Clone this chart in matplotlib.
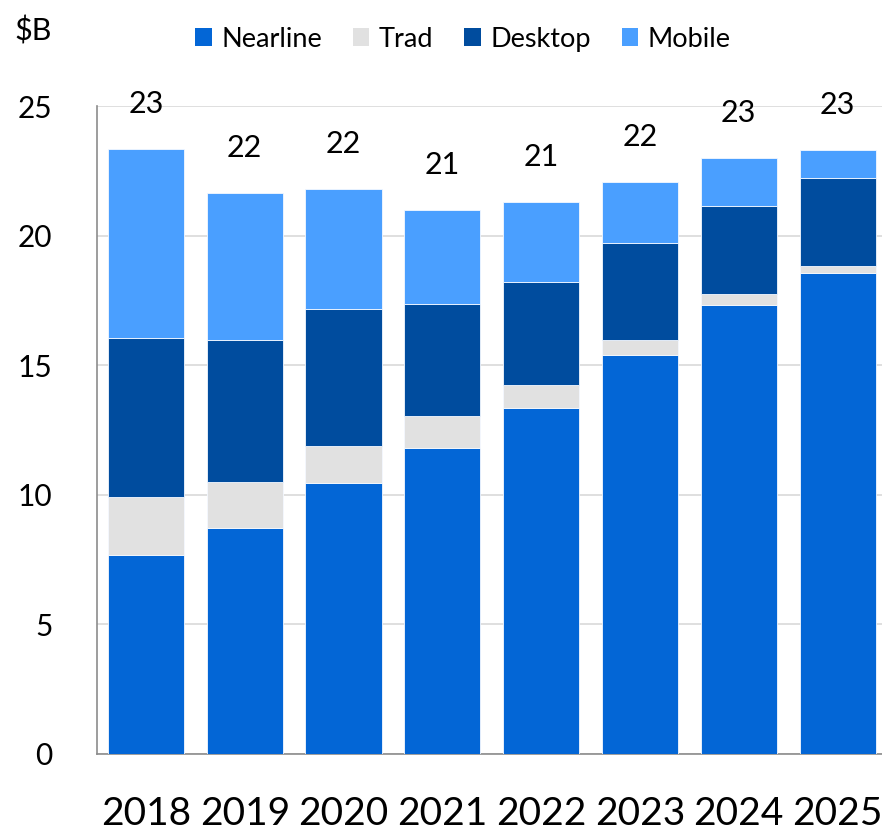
import numpy as np
import matplotlib
matplotlib.use("Agg")
import matplotlib.pyplot as plt
from matplotlib.patches import Patch

plt.rcParams['font.family'] = ['Lato', 'DejaVu Sans']

years = ['2018', '2019', '2020', '2021', '2022', '2023', '2024', '2025']
nearline = [7.68, 8.72, 10.46, 11.81, 13.35, 15.39, 17.32, 18.56]
trad = [2.24, 1.77, 1.42, 1.23, 0.89, 0.58, 0.43, 0.27]
desktop = [6.13, 5.48, 5.29, 4.32, 3.97, 3.74, 3.39, 3.39]
mobile = [7.29, 5.67, 4.63, 3.63, 3.09, 2.36, 1.85, 1.08]

series = [('Nearline', nearline, '#0366d6'),
          ('Trad', trad, '#e1e1e1'),
          ('Desktop', desktop, '#004c9e'),
          ('Mobile', mobile, '#4a9fff')]

fig = plt.figure(figsize=(8.82, 8.31), dpi=100)
ax = fig.add_axes([0.11, 0.0927, 0.89, 0.7797])

x = np.arange(len(years))
bottom = np.zeros(len(years))
for name, vals, col in series:
    ax.bar(x, vals, width=0.77, bottom=bottom, color=col, edgecolor='#f4f8ff',
           linewidth=0.6, label=name, zorder=3)
    bottom += np.array(vals)

# totals above each stack
totals = bottom
for xi, t in zip(x, totals):
    ax.text(xi, t + 1.75, '%d' % round(t), ha='center', va='center', fontsize=22)

ax.set_ylim(0, 25)
ax.set_xlim(-0.495, 7.45)
ax.set_yticks(range(0, 26, 5))
ax.yaxis.grid(True, color='#d9d9d9', linewidth=1.2, zorder=0)
ax.set_axisbelow(True)
for s in ['top', 'right']:
    ax.spines[s].set_visible(False)
for s in ['left', 'bottom']:
    ax.spines[s].set_color('#8c8c8c')
    ax.spines[s].set_linewidth(1.2)
ax.tick_params(axis='y', length=0, pad=32, labelsize=21.5)
ax.tick_params(axis='x', length=0, pad=30, labelsize=28)
ax.set_xticks(x)
ax.set_xticklabels(years)

fig.text(0.037, 0.963, '$B', fontsize=22, va='center', ha='center')

handles = [Patch(facecolor=c, edgecolor='none') for _, _, c in series]
fig.legend(handles, [n for n, _, _ in series], loc='center', bbox_to_anchor=(0.525, 0.953),
           ncol=4, frameon=False, fontsize=19.5, handlelength=0.6, handleheight=0.6,
           handletextpad=0.35, columnspacing=1.15)

fig.savefig('out.png', dpi=100)
